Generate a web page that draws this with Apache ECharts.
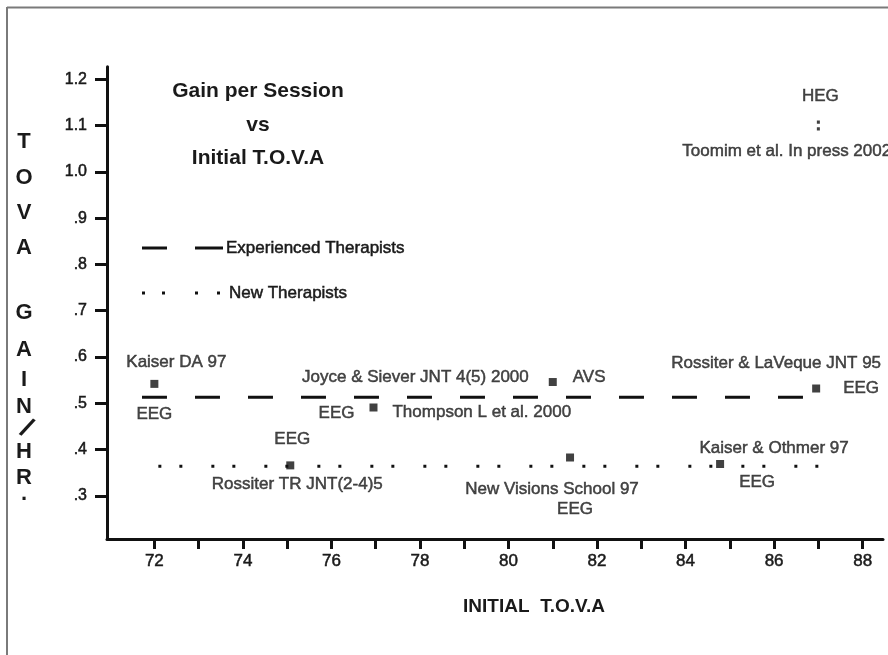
<!DOCTYPE html>
<html><head><meta charset="utf-8">
<script src="https://cdn.jsdelivr.net/npm/echarts@6/dist/echarts.min.js"></script>
<style>html,body{margin:0;padding:0;background:#fff}#chart{width:888px;height:655px}</style>
</head><body><div id="chart"></div>
<script>
// ---- axis ticks / labels ----
const xTickValues = [72,73,74,75,76,77,78,79,80,81,82,83,84,85,86,87,88];
const xLabelValues = [72,74,76,78,80,82,84,86,88];
const yTickValues = [0.3,0.4,0.5,0.6,0.7,0.8,0.9,1.0,1.1,1.2];
const yTickLabels = ['.3','.4','.5','.6','.7','.8','.9','1.0','1.1','1.2'];
const xRange = [70.93, 88.46];
const yRange = [0.207, 1.227];

// ---- group mean lines ----
const experiencedX = [71.72, 86.9];
const experiencedY = [0.513, 0.513];
const newX = [72.09, 87.19];
const newY = [0.364, 0.364];

// ---- studies ----
const studyNames = ['Kaiser DA 97','Thompson L et al. 2000','Joyce & Siever JNT 4(5) 2000','Rossiter & LaVeque JNT 95','Rossiter TR JNT(2-4)5','New Visions School 97','Kaiser & Othmer 97','Toomim et al. In press 2002'];
const studyMethods = ['EEG','EEG','AVS','EEG','EEG','EEG','EEG','HEG'];
const studyX = [72.0, 76.95, 81.0, 86.95, 75.07, 81.39, 84.78, 87.0];
const studyY = [0.542, 0.491, 0.546, 0.532, 0.366, 0.383, 0.369, 1.10];

// ---- label placement (px offsets from the marker) ----
const nameLabelLayout = [
  {offset:[22,-22], align:'center'},
  {offset:[19,5], align:'left'},
  {offset:[-24,-5], align:'right'},
  {offset:[-40,-25], align:'center'},
  {offset:[7,19], align:'center'},
  {offset:[-18,32], align:'center'},
  {offset:[54,-16], align:'center'},
  {offset:[-136,26], align:'left'}
];
const methodLabelLayout = [
  {offset:[0,30], align:'center'},
  {offset:[-37,6], align:'center'},
  {offset:[20,-5], align:'left'},
  {offset:[27,0], align:'left'},
  {offset:[2,-26], align:'center'},
  {offset:[5,52], align:'center'},
  {offset:[37,18], align:'center'},
  {offset:[2,-29], align:'center'}
];

const FONT = "'Liberation Sans', Arial, sans-serif";
const INK = '#111';
const TXT = '#1a1a1a';
const THICK = { textBorderColor: TXT, textBorderWidth: 0.5 };

function zip(a, b) { return a.map((v, i) => [v, b[i]]); }

const studyData = studyX.map((x, i) => {
  const item = { value: [x, studyY[i]], name: studyNames[i] };
  if (studyMethods[i] === 'HEG') {
    item.symbol = 'path://M0,0h1v1h-1zM0,2h1v1h-1z';
    item.symbolSize = [3, 10];
  }
  item.label = { offset: nameLabelLayout[i].offset, align: nameLabelLayout[i].align };
  return item;
});
const methodData = studyX.map((x, i) => ({
  value: [x, studyY[i]], name: studyMethods[i],
  label: { offset: methodLabelLayout[i].offset, align: methodLabelLayout[i].align }
}));

const labelBase = Object.assign({ show: true, position: 'inside', verticalAlign: 'middle', fontFamily: FONT, fontSize: 17, color: TXT, formatter: p => p.name }, THICK);

const yLetters = [
  ['T',142],['O',178],['V',213],['A',248],
  ['G',313],['A',350],['I',380],['N',407],['H',452],['R',478],['.',494]
];

function txt(x, y, text, font, align) {
  return { type:'text', x:x, y:y, style:{ text:text, align:align || 'center', verticalAlign:'middle', font:font, fill:TXT } };
}
function thinTxt(x, y, text, font, align) {
  const t = txt(x, y, text, font, align);
  t.style.stroke = TXT; t.style.lineWidth = 0.5;
  return t;
}

const graphic = [
  { type:'line', shape:{x1:7,y1:7.5,x2:888,y2:7.5}, style:{stroke:'#7a7a7a', lineWidth:2} },
  { type:'line', shape:{x1:7,y1:7,x2:7,y2:655}, style:{stroke:'#7a7a7a', lineWidth:2} },
  // title
  txt(258, 91, 'Gain per Session', "bold 21px " + FONT),
  txt(258, 125, 'vs', "bold 21px " + FONT),
  txt(258, 158, 'Initial T.O.V.A', "bold 21px " + FONT),
  // legend
  { type:'line', shape:{x1:142,y1:248,x2:167,y2:248}, style:{stroke:INK, lineWidth:3} },
  { type:'line', shape:{x1:195,y1:248,x2:223,y2:248}, style:{stroke:INK, lineWidth:3} },
  thinTxt(226, 248, 'Experienced Therapists', "17px " + FONT, 'left'),
  { type:'rect', shape:{x:142,y:291.5,width:3,height:3}, style:{fill:INK} },
  { type:'rect', shape:{x:162,y:291.5,width:3,height:3}, style:{fill:INK} },
  { type:'rect', shape:{x:195,y:291.5,width:3,height:3}, style:{fill:INK} },
  { type:'rect', shape:{x:217,y:291.5,width:3,height:3}, style:{fill:INK} },
  thinTxt(229, 293, 'New Therapists', "17px " + FONT, 'left'),
  // x axis title
  txt(534, 607, 'INITIAL  T.O.V.A', "bold 19px " + FONT),
  // y axis title slash
  { type:'text', x:26, y:429, rotation:-0.55, style:{ text:'/', align:'center', verticalAlign:'middle', font:"bold 28px " + FONT, fill:TXT } }
];
yLetters.forEach(([ch, y]) => { graphic.push(txt(24, y, ch, "bold 22px " + FONT)); });

const chart = echarts.init(document.getElementById('chart'), null, { renderer: 'canvas' });
chart.setOption({
  animation: false,
  backgroundColor: '#fff',
  grid: { left: 107, right: 5, top: 66.7, bottom: 116, containLabel: false },
  xAxis: {
    type: 'value', min: xRange[0], max: xRange[1],
    axisLine: { show: true, onZero: false, lineStyle: { color: INK, width: 3 } },
    axisTick: { show: true, length: 10, lineStyle: { color: INK, width: 3 }, customValues: xTickValues },
    axisLabel: Object.assign({ customValues: xLabelValues, margin: 14, fontFamily: FONT, fontSize: 17, color: TXT, formatter: v => String(Math.round(v)) }, THICK),
    splitLine: { show: false }
  },
  yAxis: {
    type: 'value', min: yRange[0], max: yRange[1],
    axisLine: { show: true, onZero: false, lineStyle: { color: INK, width: 3 } },
    axisTick: { show: true, length: 12, lineStyle: { color: INK, width: 3 }, customValues: yTickValues },
    axisLabel: Object.assign({
      customValues: yTickValues, margin: 20, fontFamily: FONT, fontSize: 16, color: TXT,
      formatter: v => { const i = yTickValues.findIndex(t => Math.abs(t - v) < 1e-6); return i >= 0 ? yTickLabels[i] : ''; }
    }, THICK),
    splitLine: { show: false }
  },
  graphic: graphic,
  series: [
    { name: 'Experienced Therapists', type: 'line', data: zip(experiencedX, experiencedY), symbol: 'none',
      lineStyle: { color: INK, width: 3, type: [25, 28], cap: 'butt' }, z: 2 },
    { name: 'New Therapists', type: 'line', data: zip(newX, newY), symbol: 'none',
      lineStyle: { color: INK, width: 3, type: [3, 18, 3, 29], cap: 'butt' }, z: 2 },
    { name: 'Studies', type: 'scatter', data: studyData, symbol: 'rect', symbolSize: 8,
      itemStyle: { color: INK }, label: labelBase, z: 3 },
    { name: 'Methods', type: 'scatter', data: methodData, symbol: 'rect', symbolSize: 1,
      itemStyle: { color: 'rgba(0,0,0,0)' }, label: labelBase, z: 3 }
  ]
});
</script></body></html>
